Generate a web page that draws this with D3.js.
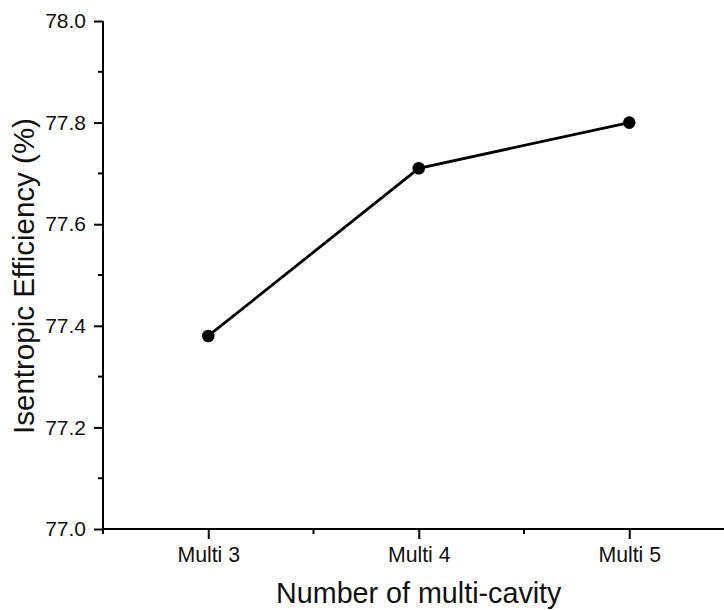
<!DOCTYPE html>
<html lang="en">
<head>
<meta charset="UTF-8">
<title>Isentropic Efficiency</title>
<style>
  body { margin: 0; background: #fff; }
  svg { display: block; }
</style>
</head>
<body>
<script src="https://d3js.org/d3.v7.min.js"></script>
<div id="chart"></div>
<script>
// data
const categories = ["Multi 3", "Multi 4", "Multi 5"];
const positions = [3, 4, 5];
const efficiency = [77.38, 77.71, 77.80];
const yTicks = [77.0, 77.2, 77.4, 77.6, 77.8, 78.0];

const W = 724, H = 610;
const font = "'Liberation Sans', Arial, sans-serif";
const margin = {top: 21, left: 103, bottom: 81};
const plotH = H - margin.top - margin.bottom;

const svg = d3.select("#chart").append("svg")
  .attr("width", W).attr("height", H);

const x = d3.scaleLinear().domain([2.5, 5.5]).range([margin.left, margin.left + 631.5]);
const y = d3.scaleLinear().domain([77.0, 78.0]).range([margin.top + plotH, margin.top]);

// y axis
const gy = svg.append("g").attr("transform", `translate(${margin.left},0)`)
  .call(d3.axisLeft(y).tickValues(yTicks).tickFormat(d3.format(".1f")).tickSize(9).tickPadding(8));
gy.attr("font-family", font).attr("font-size", 21);
gy.select(".domain").attr("stroke-width", 2).attr("d", `M0,${y(78)}V${y(77)}`);
gy.selectAll(".tick line").attr("stroke-width", 2);
gy.selectAll(".tick text").attr("fill", "#111");
// minor y ticks
gy.selectAll(".minor").data(d3.range(77.1, 78.0, 0.2)).join("line")
  .attr("x1", -5).attr("x2", 0).attr("y1", d => y(d)).attr("y2", d => y(d))
  .attr("stroke", "#000").attr("stroke-width", 2);

// x axis
const gx = svg.append("g").attr("transform", `translate(0,${y(77)})`)
  .call(d3.axisBottom(x).tickValues(positions).tickFormat((d, i) => categories[i]).tickSize(10).tickPadding(8));
gx.attr("font-family", font).attr("font-size", 21.3);
gx.select(".domain").attr("stroke-width", 2).attr("d", `M${margin.left},0H${W}`);
gx.selectAll(".tick line").attr("stroke-width", 2);
gx.selectAll(".tick text").attr("fill", "#111");
gx.selectAll(".minor").data([2.5, 3.5, 4.5]).join("line")
  .attr("x1", d => x(d)).attr("x2", d => x(d)).attr("y1", 0).attr("y2", 5)
  .attr("stroke", "#000").attr("stroke-width", 2);

// line and points
const pts = positions.map((p, i) => [p, efficiency[i]]);
svg.append("path").datum(pts)
  .attr("fill", "none").attr("stroke", "#000").attr("stroke-width", 2.8)
  .attr("d", d3.line().x(d => x(d[0])).y(d => y(d[1])));
svg.selectAll(".pt").data(pts).join("circle")
  .attr("cx", d => x(d[0])).attr("cy", d => y(d[1])).attr("r", 6.3).attr("fill", "#000");

// axis titles
svg.append("text")
  .attr("transform", `translate(34,${margin.top + plotH / 2 + 1}) rotate(-90)`)
  .attr("text-anchor", "middle").attr("font-family", font).attr("font-size", 29.5).attr("fill", "#111")
  .text("Isentropic Efficiency (%)");
svg.append("text")
  .attr("x", x(4)).attr("y", 603)
  .attr("text-anchor", "middle").attr("font-family", font).attr("font-size", 28.7).attr("fill", "#111")
  .text("Number of multi-cavity");
</script>
</body>
</html>
